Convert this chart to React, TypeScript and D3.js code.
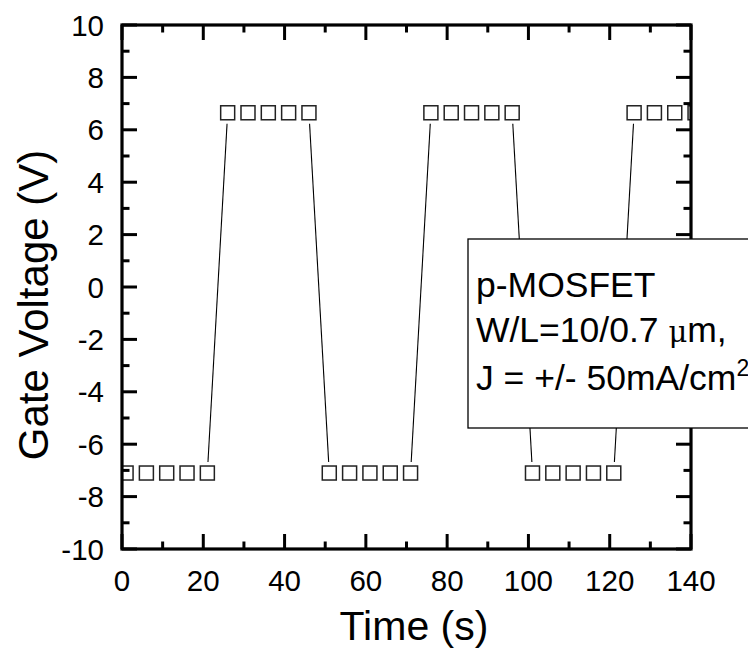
import React from "react";
import * as d3 from "d3";

const times = [1, 6, 11, 16, 21, 26, 31, 36, 41, 46, 51, 56, 61, 66, 71, 76, 81, 86, 91, 96, 101, 106, 111, 116, 121, 126, 131, 136, 141];
const voltages = [-7.1, -7.1, -7.1, -7.1, -7.1, 6.65, 6.65, 6.65, 6.65, 6.65, -7.1, -7.1, -7.1, -7.1, -7.1, 6.65, 6.65, 6.65, 6.65, 6.65, -7.1, -7.1, -7.1, -7.1, -7.1, 6.65, 6.65, 6.65, 6.65];
const xMajorTicks = [0, 20, 40, 60, 80, 100, 120, 140];
const xMinorTicks = [10, 30, 50, 70, 90, 110, 130];
const yMajorTicks = [-10, -8, -6, -4, -2, 0, 2, 4, 6, 8, 10];
const yMinorTicks = [-9, -7, -5, -3, -1, 1, 3, 5, 7, 9];
const xTitle = "Time (s)";
const yTitle = "Gate Voltage (V)";
const legendLines = ["p-MOSFET", "W/L=10/0.7 ", "J = +/- 50mA/cm"];

const W = 748;
const H = 650;
const L = 122, R = 691, T = 25, B = 549;
const FONT = "'Liberation Sans', Arial, Helvetica, sans-serif";

export default function App() {
  const x = d3.scaleLinear().domain([0, 140]).range([L, R]);
  const y = d3.scaleLinear().domain([-10, 10]).range([B, T]);
  const pts = times.map((t, i) => [x(t), y(voltages[i])] as [number, number]);
  const half = 7;
  const gap = 4;
  const segs: { x1: number; y1: number; x2: number; y2: number }[] = [];
  for (let i = 0; i < pts.length - 1; i++) {
    const [ax, ay] = pts[i];
    const [bx, by] = pts[i + 1];
    const dx = bx - ax, dy = by - ay;
    const len = Math.hypot(dx, dy);
    const exit = (half / Math.max(Math.abs(dx), Math.abs(dy))) * len + gap;
    if (len - 2 * exit <= 0) continue;
    const ux = dx / len, uy = dy / len;
    segs.push({ x1: ax + ux * exit, y1: ay + uy * exit, x2: bx - ux * exit, y2: by - uy * exit });
  }
  const maj = 15, mnr = 7.5;
  return (
    <svg width={W} height={H} style={{ position: "absolute", left: 0, top: 0, background: "#fff" }} fontFamily={FONT}>
      <defs>
        <clipPath id="plotclip">
          <rect x={L} y={T} width={R - L} height={B - T} />
        </clipPath>
      </defs>
      <rect x={0} y={0} width={W} height={H} fill="#fff" />
      <g clipPath="url(#plotclip)">
        {segs.map((s, i) => (
          <line key={i} x1={s.x1} y1={s.y1} x2={s.x2} y2={s.y2} stroke="#000" strokeWidth={1.1} />
        ))}
        {pts.map(([px, py], i) => (
          <rect key={i} x={px - half} y={py - half} width={half * 2} height={half * 2} fill="#fff" stroke="#222" strokeWidth={1.5} />
        ))}
      </g>
      <g stroke="#000" strokeWidth={3}>
        {xMajorTicks.map((v) => (
          <g key={"xM" + v}>
            <line x1={x(v)} x2={x(v)} y1={B} y2={B - maj} />
            <line x1={x(v)} x2={x(v)} y1={T} y2={T + maj} />
          </g>
        ))}
        {xMinorTicks.map((v) => (
          <g key={"xm" + v}>
            <line x1={x(v)} x2={x(v)} y1={B} y2={B - mnr} />
            <line x1={x(v)} x2={x(v)} y1={T} y2={T + mnr} />
          </g>
        ))}
        {yMajorTicks.map((v) => (
          <g key={"yM" + v}>
            <line x1={L} x2={L + maj} y1={y(v)} y2={y(v)} />
            <line x1={R} x2={R - maj} y1={y(v)} y2={y(v)} />
          </g>
        ))}
        {yMinorTicks.map((v) => (
          <g key={"ym" + v}>
            <line x1={L} x2={L + mnr} y1={y(v)} y2={y(v)} />
            <line x1={R} x2={R - mnr} y1={y(v)} y2={y(v)} />
          </g>
        ))}
      </g>
      <rect x={L} y={T} width={R - L} height={B - T} fill="none" stroke="#000" strokeWidth={3.2} />
      <g fontSize={29.5} fill="#000">
        {xMajorTicks.map((v) => (
          <text key={"xl" + v} x={x(v)} y={591} textAnchor="middle">{v}</text>
        ))}
        {yMajorTicks.map((v) => (
          <text key={"yl" + v} x={104} y={y(v) + 10.5} textAnchor="end">{v}</text>
        ))}
      </g>
      <text x={414} y={640} fontSize={41} textAnchor="middle" fill="#000">{xTitle}</text>
      <text transform={`translate(48,305) rotate(-90)`} fontSize={42} textAnchor="middle" fill="#000">{yTitle}</text>
      <rect x={468} y={239} width={300} height={189} fill="#fff" stroke="#000" strokeWidth={1.3} />
      <g fontSize={35.5} fill="#000">
        <text x={476} y={297}>{legendLines[0]}</text>
        <text x={476} y={342}>
          {legendLines[1]}
          <tspan fontFamily="'DejaVu Serif', serif" fontSize={29}>μ</tspan>
          <tspan>m,</tspan>
        </text>
        <text x={476} y={390}>
          {legendLines[2]}
          <tspan fontSize={23} dy={-14}>2</tspan>
        </text>
      </g>
    </svg>
  );
}
